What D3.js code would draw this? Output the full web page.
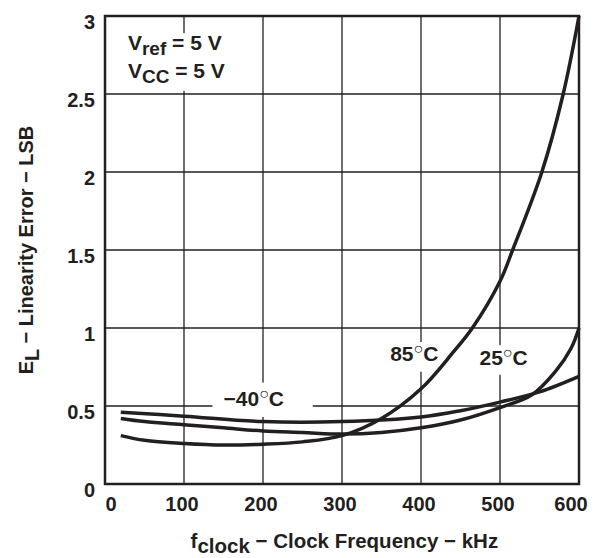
<!DOCTYPE html>
<html>
<head>
<meta charset="utf-8">
<script src="https://cdn.jsdelivr.net/npm/d3@7"></script>
<style>
  body { margin: 0; background: #fff; }
  text { font-family: "Liberation Sans", Arial, sans-serif; font-weight: bold; fill: #231f20; }
</style>
</head>
<body>
<svg id="chart" width="602" height="558"></svg>
<script>
// values (kHz, LSB)
var xTicks = [0, 100, 200, 300, 400, 500, 600];
var yTicks = [0, 0.5, 1, 1.5, 2, 2.5, 3];
var yTickLabels = ["0", "0.5", "1", "1.5", "2", "2.5", "3"];

var freqM40 = [20, 100, 200, 300, 400, 450, 500, 550, 600];
var errM40  = [0.46, 0.435, 0.40, 0.40, 0.43, 0.47, 0.525, 0.59, 0.69];

var freq25 = [20, 50, 100, 150, 200, 250, 300, 350, 400, 450, 500, 540, 570, 590, 600];
var err25  = [0.42, 0.40, 0.38, 0.36, 0.34, 0.33, 0.32, 0.33, 0.36, 0.41, 0.49, 0.57, 0.72, 0.87, 1.0];

var freq85 = [20, 50, 100, 150, 200, 250, 300, 350, 400, 440, 465, 500, 516, 553, 580, 600];
var err85  = [0.31, 0.28, 0.26, 0.25, 0.255, 0.27, 0.31, 0.42, 0.61, 0.84, 1.0, 1.3, 1.5, 2.0, 2.5, 3.0];

var margin = { top: 16, right: 23, bottom: 74, left: 105 },
  width = 602 - margin.left - margin.right,
  height = 558 - margin.top - margin.bottom;

var svg = d3.select('#chart');
var g = svg.append('g').attr("transform", "translate(" + margin.left + "," + margin.top + ")");

var x = d3.scaleLinear().domain([0, 600]).range([0, width]);
var y = d3.scaleLinear().domain([0, 3]).range([height, 0]);

// grid
g.selectAll(".vgrid")
  .data(xTicks.slice(1, -1))
  .enter()
  .append("line")
  .attr("x1", d => x(d)).attr("x2", d => x(d))
  .attr("y1", 0).attr("y2", height)
  .style("stroke", "#231f20")
  .style("stroke-width", 1.3);

g.selectAll(".hgrid")
  .data(yTicks.slice(1, -1))
  .enter()
  .append("line")
  .attr("x1", 0).attr("x2", width)
  .attr("y1", d => y(d)).attr("y2", d => y(d))
  .style("stroke", "#231f20")
  .style("stroke-width", 1.3);

// white boxes behind the labels (they break the grid)
var boxes = [
  { x0: 15, x1: 125, y0: 2.89, y1: 2.52 },
  { x0: 136, x1: 263, y0: 0.65, y1: 0.43 },
  { x0: 357, x1: 425, y0: 0.91, y1: 0.72 },
  { x0: 470, x1: 537, y0: 0.89, y1: 0.70 }
];
g.selectAll(".box")
  .data(boxes)
  .enter()
  .append("rect")
  .attr("x", d => x(d.x0))
  .attr("y", d => y(d.y0))
  .attr("width", d => x(d.x1) - x(d.x0))
  .attr("height", d => y(d.y1) - y(d.y0))
  .style("fill", "#fff");

// frame
g.append("rect")
  .attr("width", width).attr("height", height)
  .style("fill", "none")
  .style("stroke", "#231f20")
  .style("stroke-width", 2.5);

// tick labels
g.selectAll(".xlab")
  .data(xTicks)
  .enter()
  .append("text")
  .attr("x", (d, i) => x(d) + (i == 0 ? 6 : (i == xTicks.length - 1 ? -8 : -2)))
  .attr("y", height + 27)
  .attr("text-anchor", "middle")
  .style("font-size", "20px")
  .text(d => d);

g.selectAll(".ylab")
  .data(yTicks)
  .enter()
  .append("text")
  .attr("x", -10)
  .attr("y", d => y(d) + 13)
  .attr("text-anchor", "end")
  .style("font-size", "20px")
  .text((d, i) => yTickLabels[i]);

// curves
var line = d3.line()
  .x(d => x(d[0]))
  .y(d => y(d[1]))
  .curve(d3.curveCatmullRom.alpha(0.5));

var series = [
  d3.zip(freqM40, errM40),
  d3.zip(freq25, err25),
  d3.zip(freq85, err85)
];
g.selectAll(".curve")
  .data(series)
  .enter()
  .append("path")
  .attr("d", line)
  .style("fill", "none")
  .style("stroke", "#231f20")
  .style("stroke-width", 3.5);

// annotations
var vref = g.append("text").attr("x", x(29)).attr("y", y(2.78)).style("font-size", "21px");
vref.append("tspan").text("V");
vref.append("tspan").attr("dy", 5).style("font-size", "19px").text("ref");
vref.append("tspan").attr("dy", -5).text(" = 5 V");

var vcc = g.append("text").attr("x", x(29)).attr("y", y(2.6)).style("font-size", "21px");
vcc.append("tspan").text("V");
vcc.append("tspan").attr("dy", 5).style("font-size", "19px").text("CC");
vcc.append("tspan").attr("dy", -5).text(" = 5 V");

function tempLabel(t, fx, ey) {
  var el = g.append("text").attr("x", x(fx)).attr("y", y(ey)).style("font-size", "21px");
  el.append("tspan").text(t);
  el.append("tspan").attr("dy", -7).style("font-size", "16px").style("font-weight", "normal").text("○");
  el.append("tspan").attr("dy", 7).text("C");
}
tempLabel("−40", 150, 0.5);
tempLabel("85", 361, 0.79);
tempLabel("25", 474, 0.76);

// axis titles
var xt = svg.append("text")
  .attr("x", margin.left + x(303))
  .attr("y", 548)
  .attr("text-anchor", "middle")
  .style("font-size", "20.5px");
xt.append("tspan").text("f");
xt.append("tspan").attr("dy", 5).text("clock");
xt.append("tspan").attr("dy", -5).text(" − Clock Frequency − kHz");

var yt = svg.append("text")
  .attr("transform", "translate(33," + (margin.top + height / 2) + ") rotate(-90)")
  .attr("text-anchor", "middle")
  .style("font-size", "20px");
yt.append("tspan").text("E");
yt.append("tspan").attr("dy", 6).text("L");
yt.append("tspan").attr("dy", -6).text(" − Linearity Error − LSB");
</script>
</body>
</html>
